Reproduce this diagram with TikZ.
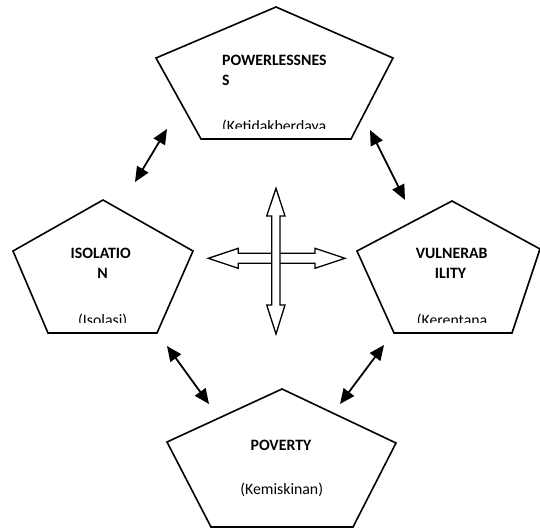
\documentclass[tikz,border=0pt]{standalone}
\usepackage{fontspec}
\setmainfont{Carlito}
\usetikzlibrary{arrows.meta}
\begin{document}
\begin{tikzpicture}[x=1pt,y=-1pt,
  pent/.style={draw=black,line width=1.6pt,line join=miter},
  twoway/.style={line width=1.8pt,
    {Triangle[length=15pt,width=13pt]}-{Triangle[length=15pt,width=13pt]}},
  hollow/.style={draw=black,fill=white,line width=1.3pt,line join=miter},
  lbl/.style={inner sep=0pt,font=\fontsize{15.8}{19.3}\selectfont},
  hd/.style={inner sep=0pt,font=\fontsize{15.8}{19.3}\selectfont\bfseries}]
\useasboundingbox (0,0) rectangle (540,529);

% ---- the four pentagons ----
\draw[pent] (276,7) -- (393,58) -- (351,139) -- (201,139) -- (156,58) -- cycle;
\draw[pent] (103,200) -- (193,251) -- (157,333) -- (48,333) -- (13,251) -- cycle;
\draw[pent] (452,201) -- (540,249) -- (512,333) -- (394,333) -- (357,251) -- cycle;
\draw[pent] (282,389) -- (396,443) -- (353,527) -- (211,527) -- (167,442) -- cycle;

% ---- labels (text boxes are cut off at their lower edge) ----
\node[hd,anchor=base west] (pw1) at (222,66) {POWERLESSNES};
\node[hd,anchor=base west] (pw2) at (222,86) {S};
\begin{scope}
  \clip (150,0) rectangle (400,128.5);
  \node[lbl,anchor=base west] (pw3) at (222,132) {(Ketidakberdaya};
\end{scope}

\node[hd,anchor=base] (is1) at (100.8,258) {ISOLATIO};
\node[hd,anchor=base] (is2) at (102.7,278) {N};
\begin{scope}
  \clip (0,200) rectangle (200,322.7);
  \node[lbl,anchor=base] (is3) at (102.7,325) {(Isolasi)};
\end{scope}

\node[hd,anchor=base] (vu1) at (451.7,258.3) {VULNERAB};
\node[hd,anchor=base] (vu2) at (450.5,278.3) {ILITY};
\begin{scope}
  \clip (350,200) rectangle (540,322.7);
  \node[lbl,anchor=base] (vu3) at (452,325) {(Kerentana};
\end{scope}

\node[hd,anchor=base] (po1) at (281,450) {POVERTY};
\node[lbl,anchor=base] (po2) at (281.7,494) {(Kemiskinan)};

% ---- two-way links between neighbouring pentagons ----
\coordinate (tlA) at (135,182);
\coordinate (tlB) at (167,129);
\coordinate (trA) at (370,130);
\coordinate (trB) at (405,200);
\coordinate (blA) at (167,346);
\coordinate (blB) at (209,404);
\coordinate (brA) at (384,345);
\coordinate (brB) at (340,404);
\draw[twoway] (tlA) -- (tlB);
\draw[twoway] (trA) -- (trB);
\draw[twoway] (blA) -- (blB);
\draw[twoway] (brA) -- (brB);

% ---- hollow cross of block arrows in the middle ----
\draw[hollow] (208.3,258.3) -- (238.3,248.3) -- (238.3,253.3) -- (315,253.3)
  -- (315,248.3) -- (345,258.3) -- (315,268.3) -- (315,263.3)
  -- (238.3,263.3) -- (238.3,268.3) -- cycle;
\draw[hollow] (276,188.3) -- (285,216) -- (280,216) -- (280,305)
  -- (285,305) -- (276,334) -- (266.7,305) -- (271.7,305)
  -- (271.7,216) -- (266.7,216) -- cycle;
\end{tikzpicture}
\end{document}
